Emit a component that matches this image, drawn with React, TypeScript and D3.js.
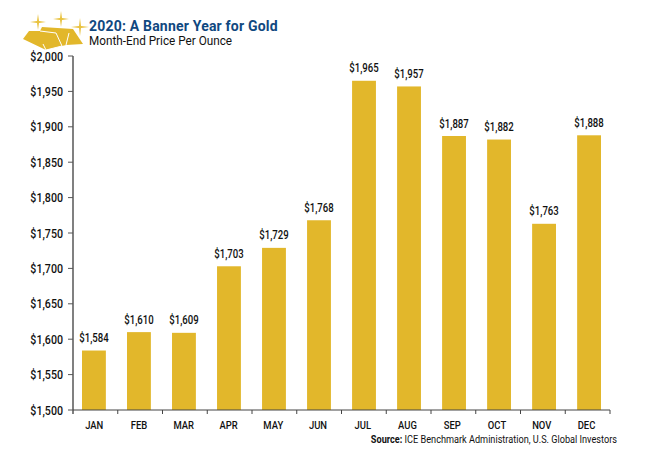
import React, { useEffect, useRef } from 'react';
import * as d3 from 'd3';

const months = ['JAN', 'FEB', 'MAR', 'APR', 'MAY', 'JUN', 'JUL', 'AUG', 'SEP', 'OCT', 'NOV', 'DEC'];
const prices = [1584, 1610, 1609, 1703, 1729, 1768, 1965, 1957, 1887, 1882, 1763, 1888];
const priceTicks = [1500, 1550, 1600, 1650, 1700, 1750, 1800, 1850, 1900, 1950, 2000];

const font = 'Roboto, sans-serif';
const gold = '#e2b72b';

const App = () => {
  const ref = useRef<SVGSVGElement>(null);

  useEffect(() => {
    const svg = d3.select(ref.current);
    svg.selectAll('*').remove();

    const left = 73;
    const right = 610;
    const top = 56;
    const bottom = 410;

    const x = d3.scaleBand().domain(months).range([left, right]).paddingInner(0.47).paddingOuter(0.2);
    const y = d3.scaleLinear().domain([1500, 2000]).range([bottom, top]);

    // Narrow text: the original face is condensed
    const squeezed = (g: any, px: number, py: number, txt: string, size: number, anchor: string, sx = 0.8, weight = 500) =>
      g
        .append('text')
        .attr('transform', `translate(${px},${py}) scale(${sx},1)`)
        .attr('text-anchor', anchor)
        .attr('font-family', font)
        .attr('font-weight', weight)
        .attr('font-size', size)
        .attr('fill', '#111')
        .text(txt);

    // Bars
    svg
      .append('g')
      .selectAll('rect')
      .data(prices)
      .enter()
      .append('rect')
      .attr('x', (d, i) => x(months[i]) as number)
      .attr('y', (d) => y(d))
      .attr('width', x.bandwidth())
      .attr('height', (d) => bottom - y(d))
      .attr('fill', gold);

    // Value labels
    const labels = svg.append('g');
    prices.forEach((d, i) => {
      squeezed(labels, (x(months[i]) as number) + x.bandwidth() / 2, y(d) - 8.5, d3.format('$,')(d), 12, 'middle');
    });

    // Y axis
    const yAxis = svg.append('g').attr('transform', `translate(${left},0)`);
    yAxis.append('line').attr('y1', top).attr('y2', bottom + 4).attr('stroke', '#808080').attr('stroke-width', 2);
    priceTicks.forEach((t) => {
      yAxis.append('line').attr('x1', -5).attr('x2', 0).attr('y1', y(t)).attr('y2', y(t)).attr('stroke', '#555').attr('stroke-width', 1);
      squeezed(yAxis, -10, y(t) + 4.5, d3.format('$,')(t), 13, 'end', 0.82);
    });

    // X axis
    const xAxis = svg.append('g').attr('transform', `translate(0,${bottom})`);
    xAxis.append('line').attr('x1', left).attr('x2', right).attr('stroke', '#444').attr('stroke-width', 1);
    const step = x.step();
    months.forEach((m, i) => {
      const tx = left + (right - left) * ((i + 1) / months.length);
      xAxis.append('line').attr('x1', tx).attr('x2', tx).attr('y1', 0).attr('y2', 4).attr('stroke', '#444');
      squeezed(xAxis, tx - step / 2 - 1, 19, m, 10.5, 'middle', 0.9);
    });

    // Source line
    const source = svg.append('text').attr('transform', 'translate(617,443) scale(0.833,1)').attr('text-anchor', 'end').attr('font-family', font).attr('font-size', 11).attr('fill', '#111');
    source.append('tspan').attr('font-weight', 700).text('Source: ');
    source.append('tspan').text('ICE Benchmark Administration, U.S. Global Investors');

    // Titles
    svg.append('text').attr('x', 89).attr('y', 31).attr('font-family', font).attr('font-weight', 700).attr('font-size', 14).attr('letter-spacing', 0.2).attr('fill', '#10487f').text('2020: A Banner Year for Gold');
    squeezed(svg, 89, 45, 'Month-End Price Per Ounce', 12.5, 'start', 0.94, 400);

    // Gold bar icon
    const icon = svg.append('g');
    const star = (cx: number, cy: number, r: number) =>
      `M${cx},${cy - r}L${cx + 1},${cy - 1}L${cx + r},${cy}L${cx + 1},${cy + 1}L${cx},${cy + r}L${cx - 1},${cy + 1}L${cx - r},${cy}L${cx - 1},${cy - 1}Z`;
    [[38, 22, 8], [61, 19, 8], [80, 27, 9]].forEach(([cx, cy, r]) => {
      icon.append('path').attr('d', star(cx, cy, r)).attr('fill', '#e9c23e');
    });
    icon.append('path').attr('d', 'M23,39L29,31L40,31L42,27L73,29L83,44L66,45L46,50L23,39Z').attr('fill', gold);
    icon.append('path').attr('d', 'M46,50L62,46M62,46L56,33L40,31M66,45L69,33M43,44L46,50').attr('stroke', '#fff').attr('stroke-width', 1).attr('fill', 'none');
  }, []);

  return <svg ref={ref} width={658} height={457} style={{ position: 'absolute', left: 0, top: 0, background: '#fff' }} />;
};

export default App;
